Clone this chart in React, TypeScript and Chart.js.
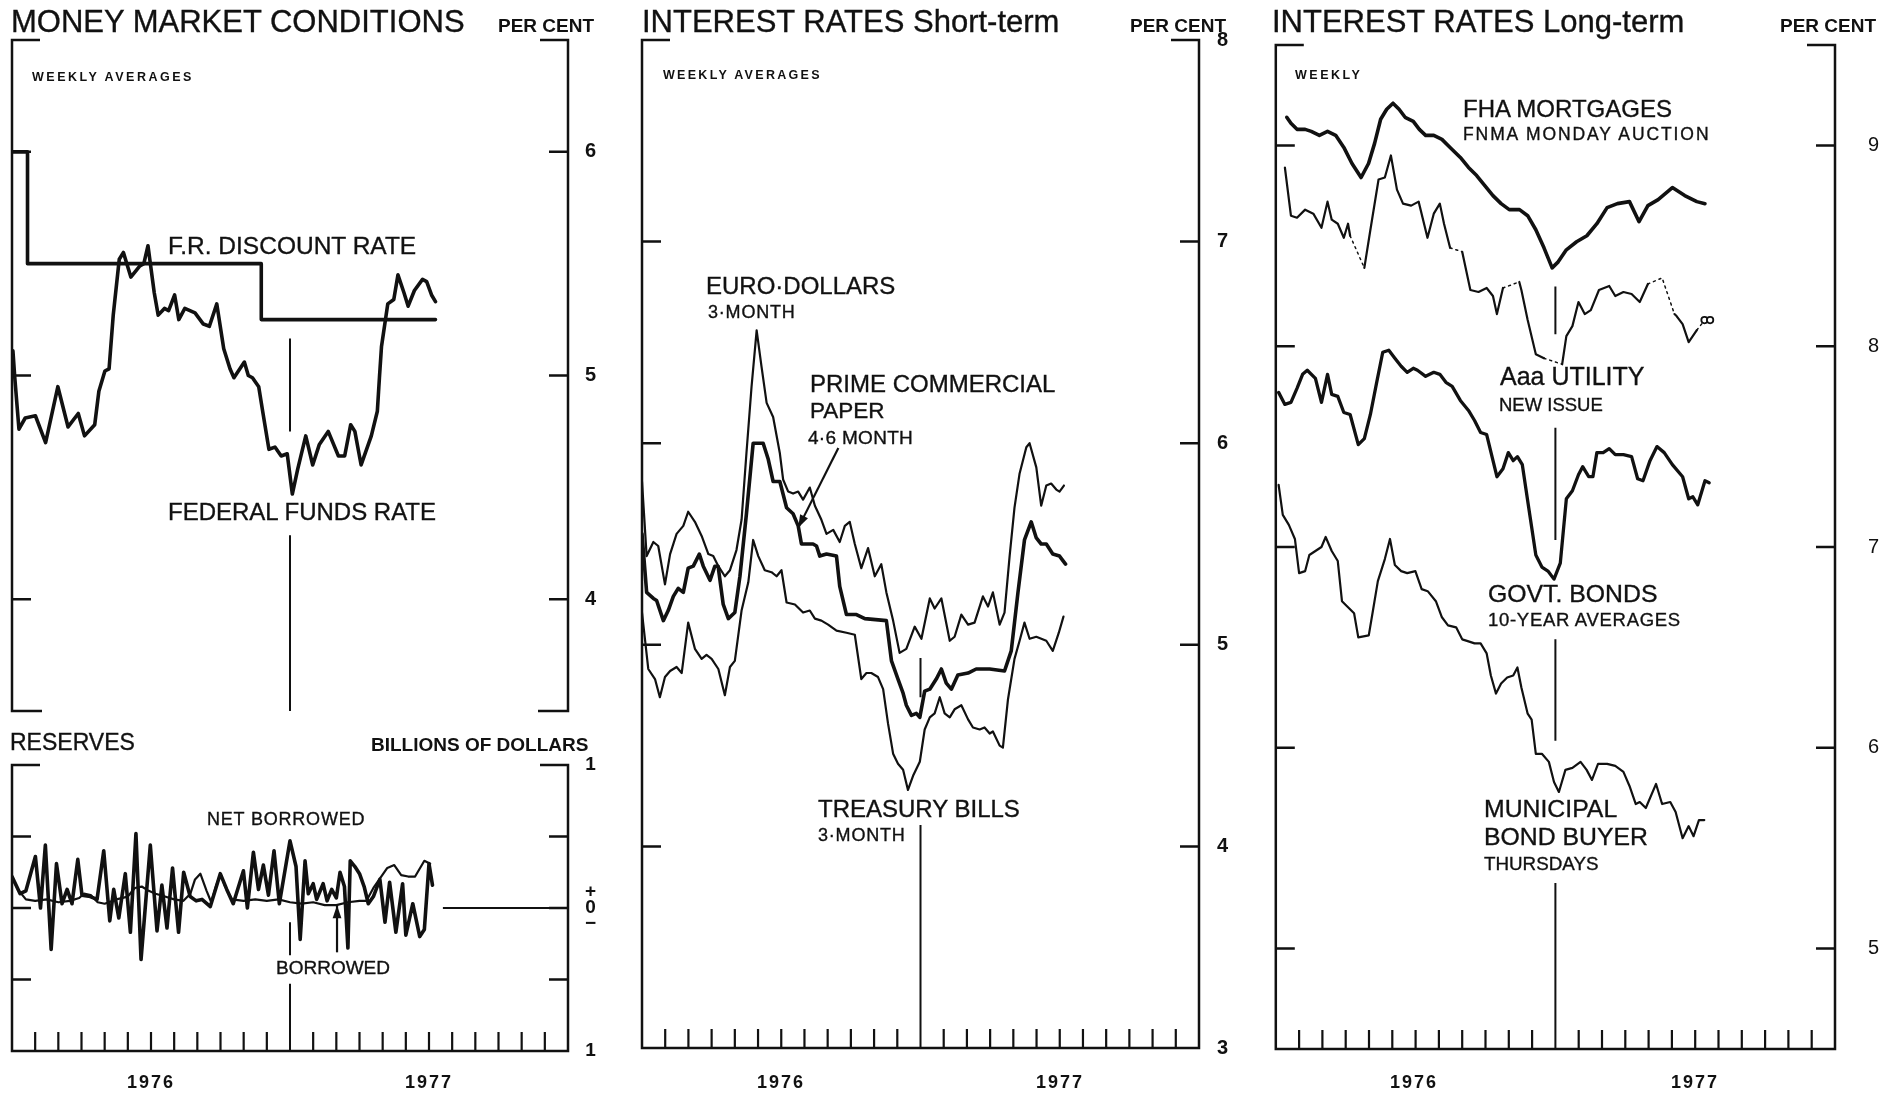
import React, { useEffect, useRef } from 'react';
import { Chart, registerables } from 'chart.js';

Chart.register(...registerables);

const INK = '#111';
const FONT = '"Liberation Sans", Arial, Helvetica, sans-serif';

// ---------- x axis: months since Jan 1976 (0..24) ----------
const MONTH_TICKS = [1, 2, 3, 4, 5, 6, 7, 8, 9, 10, 11, 13, 14, 15, 16, 17, 18, 19, 20, 21, 22, 23];
const YEAR_BREAK = 12;

// ---------- MONEY MARKET CONDITIONS (per cent) ----------
const ffMonths = [0.04, 0.12, 0.30, 0.57, 1.01, 1.45, 1.98, 2.42, 2.86, 3.13, 3.57, 3.75, 4.01, 4.19, 4.37, 4.63, 4.81, 5.13, 5.52, 5.69, 5.87, 6.14, 6.31, 6.58, 6.76, 7.02, 7.20, 7.46, 7.90, 8.26, 8.52, 8.84, 9.14, 9.41, 9.58, 10.03, 10.20, 10.38, 10.65, 10.82, 11.09, 11.35, 11.62, 11.88, 12.10, 12.33, 12.68, 12.98, 13.26, 13.65, 14.09, 14.36, 14.62, 14.80, 15.07, 15.51, 15.77, 15.86, 15.95, 16.22, 16.48, 16.66, 16.92, 17.10, 17.37, 17.72, 17.90, 18.11, 18.28];
const ffValues = [5.11, 4.99, 4.76, 4.81, 4.82, 4.70, 4.95, 4.77, 4.83, 4.73, 4.78, 4.93, 5.02, 5.03, 5.27, 5.52, 5.55, 5.44, 5.49, 5.50, 5.58, 5.37, 5.27, 5.30, 5.29, 5.36, 5.25, 5.30, 5.28, 5.23, 5.22, 5.32, 5.12, 5.03, 4.99, 5.06, 5.00, 4.99, 4.95, 4.84, 4.67, 4.68, 4.64, 4.65, 4.47, 4.58, 4.73, 4.60, 4.69, 4.75, 4.64, 4.64, 4.78, 4.75, 4.60, 4.73, 4.84, 4.99, 5.13, 5.32, 5.34, 5.45, 5.37, 5.31, 5.38, 5.43, 5.42, 5.36, 5.33];
const discountMonths = [0, 0.67, 10.76, 18.28];
const discountValues = [6.0, 5.5, 5.25, 5.25];
const mmTickValues = [4, 5, 6];
const mmTickLabels = ['4', '5', '6'];

// ---------- RESERVES (billions of dollars) ----------
const nbMonths = [0.00, 0.35, 0.60, 1.01, 1.23, 1.44, 1.69, 1.92, 2.16, 2.38, 2.59, 2.84, 3.02, 3.38, 3.67, 3.96, 4.22, 4.39, 4.61, 4.89, 5.11, 5.35, 5.57, 5.97, 6.26, 6.47, 6.69, 6.93, 7.19, 7.41, 7.69, 7.95, 8.20, 8.56, 8.99, 9.27, 9.55, 9.99, 10.16, 10.42, 10.64, 10.85, 11.07, 11.31, 11.54, 12.00, 12.26, 12.44, 12.65, 12.79, 13.00, 13.15, 13.43, 13.60, 13.80, 14.00, 14.16, 14.35, 14.50, 14.60, 14.80, 15.00, 15.20, 15.38, 15.60, 15.88, 16.10, 16.30, 16.57, 16.86, 17.00, 17.30, 17.60, 17.80, 18.00, 18.15];
const nbValues = [0.22, 0.10, 0.12, 0.36, 0.00, 0.44, -0.29, 0.31, 0.03, 0.13, 0.03, 0.34, 0.09, 0.08, 0.06, 0.40, -0.09, 0.13, -0.07, 0.24, -0.17, 0.52, -0.36, 0.44, -0.16, 0.16, -0.14, 0.28, -0.17, 0.25, 0.08, 0.05, 0.06, 0.01, 0.24, 0.13, 0.03, 0.26, 0.00, 0.39, 0.13, 0.30, 0.09, 0.40, 0.03, 0.47, 0.29, -0.22, 0.33, 0.10, 0.17, 0.06, 0.17, 0.05, 0.13, 0.07, 0.25, 0.15, -0.28, 0.33, 0.29, 0.24, 0.15, 0.03, 0.08, 0.20, -0.10, 0.18, -0.17, 0.17, -0.19, 0.03, -0.20, -0.15, 0.31, 0.16];
const borMonths = [0.00, 0.30, 0.60, 1.00, 1.50, 2.00, 2.50, 2.90, 3.10, 3.40, 3.70, 4.00, 4.50, 5.00, 5.30, 5.60, 5.90, 6.20, 6.60, 7.00, 7.40, 7.70, 7.90, 8.13, 8.40, 8.60, 8.80, 9.00, 9.20, 9.50, 10.00, 10.50, 11.00, 11.50, 12.00, 12.50, 13.00, 13.50, 14.00, 14.50, 15.00, 15.30, 15.60, 15.90, 16.20, 16.50, 16.80, 17.10, 17.40, 17.80, 18.05];
const borValues = [0.21, 0.12, 0.06, 0.05, 0.06, 0.04, 0.05, 0.07, 0.10, 0.09, 0.04, 0.03, 0.06, 0.08, 0.14, 0.15, 0.12, 0.10, 0.08, 0.06, 0.05, 0.10, 0.20, 0.24, 0.12, 0.04, 0.15, 0.24, 0.15, 0.06, 0.05, 0.06, 0.05, 0.06, 0.04, 0.03, 0.04, 0.02, 0.02, 0.04, 0.05, 0.05, 0.14, 0.21, 0.28, 0.30, 0.23, 0.22, 0.22, 0.33, 0.31];
const resTickValues = [1, 0, -1];
const resTickLabels: (string | string[])[] = ['1', ['+', '0', '\u2212'], '1'];

// ---------- INTEREST RATES Short-term (per cent) ----------
const euroMonths = [0, 0.20, 0.49, 0.70, 0.99, 1.21, 1.49, 1.78, 1.99, 2.28, 2.57, 2.86, 3.07, 3.29, 3.57, 3.79, 4.07, 4.29, 4.50, 4.72, 4.94, 5.15, 5.37, 5.65, 5.94, 6.08, 6.30, 6.51, 6.73, 6.94, 7.23, 7.45, 7.73, 7.95, 8.24, 8.52, 8.74, 8.95, 9.17, 9.45, 9.74, 10.03, 10.31, 10.53, 10.82, 11.10, 11.39, 11.75, 12.04, 12.40, 12.61, 12.90, 13.26, 13.47, 13.76, 14.05, 14.33, 14.69, 14.91, 15.12, 15.41, 15.62, 15.84, 16.05, 16.27, 16.56, 16.70, 16.99, 17.20, 17.42, 17.63, 17.85, 17.99, 18.18];
const euroValues = [5.81, 5.44, 5.51, 5.49, 5.30, 5.45, 5.55, 5.59, 5.66, 5.61, 5.54, 5.45, 5.44, 5.39, 5.34, 5.37, 5.47, 5.62, 5.95, 6.28, 6.56, 6.38, 6.20, 6.13, 5.95, 5.82, 5.76, 5.75, 5.76, 5.72, 5.78, 5.69, 5.62, 5.55, 5.57, 5.51, 5.59, 5.61, 5.50, 5.38, 5.48, 5.34, 5.40, 5.26, 5.12, 4.96, 4.98, 5.09, 5.03, 5.23, 5.18, 5.23, 5.02, 5.04, 5.15, 5.10, 5.11, 5.24, 5.19, 5.26, 5.10, 5.16, 5.44, 5.68, 5.85, 5.98, 6.00, 5.88, 5.69, 5.79, 5.80, 5.77, 5.76, 5.79];
const cpMonths = [0, 0.20, 0.49, 0.63, 0.92, 1.13, 1.35, 1.56, 1.78, 1.99, 2.21, 2.47, 2.64, 2.93, 3.14, 3.28, 3.50, 3.72, 4.00, 4.22, 4.50, 4.79, 5.22, 5.44, 5.65, 5.94, 6.23, 6.51, 6.73, 6.87, 7.37, 7.52, 7.66, 7.95, 8.38, 8.52, 8.81, 9.24, 9.60, 10.53, 10.75, 11.03, 11.25, 11.39, 11.61, 11.82, 11.97, 12.18, 12.40, 12.68, 12.90, 13.11, 13.33, 13.61, 14.05, 14.40, 14.98, 15.62, 15.91, 16.20, 16.48, 16.77, 16.99, 17.20, 17.42, 17.70, 17.99, 18.25];
const cpValues = [5.55, 5.26, 5.23, 5.22, 5.12, 5.17, 5.24, 5.28, 5.26, 5.38, 5.39, 5.45, 5.39, 5.32, 5.39, 5.39, 5.20, 5.13, 5.16, 5.34, 5.65, 6.00, 6.00, 5.92, 5.81, 5.81, 5.68, 5.65, 5.59, 5.50, 5.50, 5.49, 5.44, 5.45, 5.44, 5.29, 5.15, 5.15, 5.13, 5.12, 4.92, 4.83, 4.76, 4.70, 4.65, 4.66, 4.64, 4.77, 4.78, 4.83, 4.88, 4.81, 4.78, 4.85, 4.86, 4.88, 4.88, 4.87, 4.97, 5.26, 5.52, 5.61, 5.53, 5.50, 5.50, 5.45, 5.44, 5.40];
const tbMonths = [0, 0.27, 0.56, 0.77, 0.99, 1.21, 1.49, 1.71, 1.99, 2.28, 2.57, 2.78, 3.00, 3.29, 3.57, 3.79, 4.00, 4.29, 4.58, 4.79, 5.01, 5.29, 5.58, 5.80, 6.01, 6.23, 6.59, 6.94, 7.23, 7.45, 7.73, 8.02, 8.38, 8.81, 9.17, 9.45, 9.67, 9.88, 10.17, 10.39, 10.60, 10.82, 11.03, 11.25, 11.46, 11.68, 11.97, 12.18, 12.40, 12.61, 12.83, 13.04, 13.26, 13.47, 13.76, 14.05, 14.26, 14.55, 14.76, 14.98, 15.12, 15.41, 15.55, 15.77, 16.05, 16.27, 16.48, 16.70, 16.99, 17.42, 17.70, 17.96, 18.16];
const tbValues = [5.16, 4.88, 4.83, 4.74, 4.84, 4.87, 4.89, 4.86, 5.11, 4.98, 4.93, 4.95, 4.93, 4.88, 4.75, 4.89, 4.92, 5.17, 5.31, 5.52, 5.44, 5.37, 5.36, 5.34, 5.37, 5.21, 5.20, 5.16, 5.17, 5.13, 5.12, 5.10, 5.07, 5.06, 5.05, 4.83, 4.86, 4.86, 4.84, 4.78, 4.61, 4.46, 4.41, 4.38, 4.28, 4.35, 4.42, 4.58, 4.64, 4.66, 4.74, 4.66, 4.64, 4.68, 4.70, 4.63, 4.59, 4.58, 4.59, 4.56, 4.57, 4.50, 4.49, 4.73, 4.93, 5.02, 5.11, 5.03, 5.04, 5.02, 4.97, 5.06, 5.14];
const stTickValues = [3, 4, 5, 6, 7, 8];
const stTickLabels = ['3', '4', '5', '6', '7', '8'];

// ---------- INTEREST RATES Long-term (per cent) ----------
const fhaMonths = [0.47, 0.65, 0.91, 1.26, 1.52, 1.87, 2.22, 2.57, 2.92, 3.27, 3.66, 3.98, 4.24, 4.50, 4.76, 5.03, 5.29, 5.55, 5.90, 6.16, 6.43, 6.78, 7.13, 7.48, 7.92, 8.27, 8.62, 8.97, 9.32, 9.67, 10.02, 10.46, 10.81, 11.16, 11.51, 11.86, 12.12, 12.47, 12.91, 13.35, 13.78, 14.22, 14.66, 15.18, 15.59, 15.97, 16.41, 17.02, 17.55, 18.07, 18.42];
const fhaValues = [9.14, 9.11, 9.08, 9.08, 9.07, 9.05, 9.07, 9.05, 8.99, 8.91, 8.84, 8.91, 9.01, 9.13, 9.18, 9.21, 9.18, 9.14, 9.12, 9.08, 9.05, 9.05, 9.03, 8.99, 8.94, 8.89, 8.85, 8.80, 8.75, 8.71, 8.68, 8.68, 8.65, 8.58, 8.49, 8.39, 8.42, 8.48, 8.52, 8.55, 8.61, 8.69, 8.71, 8.72, 8.62, 8.70, 8.73, 8.79, 8.75, 8.72, 8.71];
const aaaMonths = [0.39, 0.65, 0.91, 1.26, 1.61, 1.96, 2.22, 2.40, 2.66, 2.92, 3.10, 3.19, 3.80, 4.06, 4.41, 4.68, 4.94, 5.20, 5.46, 5.81, 6.13, 6.51, 6.78, 7.04, 7.22, 7.48, 8.00, 8.35, 8.70, 9.05, 9.32, 9.49, 9.75, 10.45, 10.54, 10.81, 11.16, 11.51, 12.29, 12.47, 12.73, 12.99, 13.26, 13.52, 13.87, 14.31, 14.57, 14.92, 15.27, 15.62, 15.97, 16.58, 17.11, 17.20, 17.46, 17.72, 18.07, 18.34];
const aaaValues = [8.89, 8.65, 8.64, 8.68, 8.66, 8.59, 8.72, 8.63, 8.61, 8.54, 8.61, 8.55, 8.39, 8.58, 8.83, 8.84, 8.95, 8.78, 8.71, 8.70, 8.72, 8.54, 8.66, 8.71, 8.61, 8.49, 8.47, 8.28, 8.27, 8.29, 8.25, 8.16, 8.29, 8.32, 8.28, 8.13, 7.96, 7.94, 7.91, 8.05, 8.10, 8.22, 8.16, 8.18, 8.28, 8.30, 8.25, 8.27, 8.26, 8.22, 8.31, 8.34, 8.16, 8.15, 8.11, 8.02, 8.08, 8.12];
const aaaGapSegments = [11, 25, 32, 37, 50, 51, 56]; // segments with no offerings (dotted)
const aaaMarkMonths = [18.40, 18.64];
const aaaMarkValues = [8.13, 8.13];
const govMonths = [0.12, 0.39, 0.65, 0.91, 1.15, 1.35, 1.70, 1.96, 2.22, 2.40, 2.66, 2.92, 3.19, 3.54, 3.80, 4.06, 4.33, 4.59, 4.85, 5.11, 5.38, 5.64, 5.90, 6.08, 6.43, 6.78, 7.04, 7.30, 7.57, 7.92, 8.27, 8.53, 8.79, 9.05, 9.28, 9.49, 9.75, 9.98, 10.19, 10.37, 10.58, 10.81, 10.98, 11.16, 11.42, 11.68, 11.94, 12.21, 12.47, 12.73, 12.99, 13.17, 13.43, 13.61, 13.78, 14.05, 14.31, 14.57, 14.92, 15.27, 15.53, 15.76, 16.06, 16.36, 16.67, 17.02, 17.46, 17.72, 17.90, 18.11, 18.42, 18.60];
const govValues = [7.77, 7.71, 7.72, 7.79, 7.86, 7.88, 7.84, 7.72, 7.86, 7.76, 7.75, 7.67, 7.66, 7.51, 7.54, 7.66, 7.82, 7.97, 7.98, 7.94, 7.90, 7.87, 7.89, 7.88, 7.85, 7.87, 7.86, 7.82, 7.80, 7.73, 7.68, 7.63, 7.57, 7.56, 7.45, 7.35, 7.39, 7.47, 7.43, 7.45, 7.41, 7.23, 7.10, 6.96, 6.90, 6.88, 6.84, 6.92, 7.24, 7.28, 7.36, 7.40, 7.35, 7.35, 7.47, 7.47, 7.49, 7.46, 7.46, 7.45, 7.34, 7.33, 7.43, 7.50, 7.47, 7.41, 7.35, 7.24, 7.25, 7.21, 7.33, 7.32];
const muniMonths = [0.12, 0.30, 0.56, 0.82, 1.00, 1.26, 1.44, 1.70, 1.96, 2.14, 2.40, 2.66, 2.84, 3.10, 3.36, 3.54, 3.99, 4.15, 4.38, 4.68, 4.90, 5.11, 5.38, 5.64, 5.99, 6.26, 6.52, 6.87, 7.13, 7.39, 7.74, 8.00, 8.27, 8.53, 8.79, 9.05, 9.23, 9.45, 9.67, 9.93, 10.19, 10.37, 10.54, 10.81, 10.98, 11.16, 11.42, 11.72, 11.94, 12.15, 12.43, 12.73, 13.08, 13.34, 13.57, 13.83, 14.22, 14.57, 14.92, 15.18, 15.45, 15.62, 15.88, 16.32, 16.58, 16.93, 17.16, 17.46, 17.72, 17.93, 18.16, 18.39];
const muniValues = [7.31, 7.16, 7.11, 7.04, 6.87, 6.88, 6.96, 6.98, 7.00, 7.05, 6.98, 6.93, 6.73, 6.70, 6.67, 6.55, 6.56, 6.67, 6.83, 6.94, 7.04, 6.91, 6.88, 6.87, 6.88, 6.79, 6.78, 6.73, 6.65, 6.61, 6.60, 6.54, 6.53, 6.52, 6.52, 6.47, 6.36, 6.27, 6.32, 6.35, 6.36, 6.40, 6.30, 6.17, 6.14, 5.97, 5.97, 5.93, 5.83, 5.78, 5.89, 5.90, 5.93, 5.89, 5.84, 5.92, 5.92, 5.91, 5.88, 5.81, 5.72, 5.73, 5.70, 5.82, 5.72, 5.73, 5.68, 5.55, 5.61, 5.56, 5.64, 5.64];
const ltTickValues = [5, 6, 7, 8, 9];
const ltTickLabels = ['5', '6', '7', '8', '9'];

// ---------- helpers ----------
const pts = (xs: number[], ys: number[]) => xs.map((x, i) => ({ x, y: ys[i] }));

const THICK = 3.6;
const THIN = 2.2;

interface Arrow { x1: number; y1: number; x2: number; y2: number }
interface Decor {
  yTicks: number[];
  bottomAxis: boolean;
  dividers: [number, number][];
  zeroFrom?: number;
  arrows?: Arrow[];
}

function decorPlugin(d: Decor) {
  return {
    id: 'decor',
    afterDatasetsDraw(chart: any) {
      const { ctx, chartArea: a } = chart;
      const xs = chart.scales.x;
      const ys = chart.scales.y;
      const L = a.left, R = a.right, T = a.top, B = a.bottom;
      ctx.save();
      ctx.strokeStyle = INK;
      ctx.fillStyle = INK;
      ctx.lineCap = 'butt';
      ctx.lineWidth = 2.5;
      ctx.beginPath();
      ctx.moveTo(L, T - 1.2); ctx.lineTo(L, B + 1.2);
      ctx.moveTo(R, T - 1.2); ctx.lineTo(R, B + 1.2);
      ctx.moveTo(L, T); ctx.lineTo(L + 28, T);
      ctx.moveTo(R, T); ctx.lineTo(R - 28, T);
      if (d.bottomAxis) {
        ctx.moveTo(L, B); ctx.lineTo(R, B);
      } else {
        ctx.moveTo(L, B); ctx.lineTo(L + 30, B);
        ctx.moveTo(R, B); ctx.lineTo(R - 30, B);
      }
      for (const v of d.yTicks) {
        const py = ys.getPixelForValue(v);
        ctx.moveTo(L, py); ctx.lineTo(L + 19, py);
        ctx.moveTo(R, py); ctx.lineTo(R - 19, py);
      }
      ctx.stroke();
      if (d.bottomAxis) {
        ctx.lineWidth = 2.2;
        ctx.beginPath();
        for (const m of MONTH_TICKS) {
          const px = xs.getPixelForValue(m);
          ctx.moveTo(px, B); ctx.lineTo(px, B - 19);
        }
        ctx.stroke();
      }
      ctx.lineWidth = 2;
      ctx.beginPath();
      const dx = xs.getPixelForValue(YEAR_BREAK);
      for (const [v1, v2] of d.dividers) {
        ctx.moveTo(dx, ys.getPixelForValue(v1));
        ctx.lineTo(dx, ys.getPixelForValue(v2));
      }
      if (d.zeroFrom !== undefined) {
        const py = ys.getPixelForValue(0);
        ctx.moveTo(xs.getPixelForValue(d.zeroFrom), py);
        ctx.lineTo(R, py);
      }
      ctx.stroke();
      for (const ar of d.arrows ?? []) {
        const x1 = xs.getPixelForValue(ar.x1), y1 = ys.getPixelForValue(ar.y1);
        const x2 = xs.getPixelForValue(ar.x2), y2 = ys.getPixelForValue(ar.y2);
        ctx.lineWidth = 2.2;
        ctx.beginPath(); ctx.moveTo(x1, y1); ctx.lineTo(x2, y2); ctx.stroke();
        const ang = Math.atan2(y2 - y1, x2 - x1);
        const hl = 13, hw = 4.4;
        const c = Math.cos(ang), s = Math.sin(ang);
        ctx.beginPath();
        ctx.moveTo(x2, y2);
        ctx.lineTo(x2 - hl * c + hw * s, y2 - hl * s - hw * c);
        ctx.lineTo(x2 - hl * c - hw * s, y2 - hl * s + hw * c);
        ctx.closePath();
        ctx.fill();
      }
      ctx.restore();
    },
  };
}

interface PanelCfg {
  datasets: any[];
  yMin: number;
  yMax: number;
  tickValues: number[];
  tickLabels: (string | string[])[];
  tickFont: any;
  tickPadding: number;
  axisWidth: number;
  padding: { left: number; top: number; right: number; bottom: number };
  decor: Decor;
}

function makeChart(canvas: HTMLCanvasElement, c: PanelCfg) {
  return new Chart(canvas, {
    type: 'line',
    data: { datasets: c.datasets },
    options: {
      animation: false,
      responsive: false,
      maintainAspectRatio: false,
      layout: { padding: c.padding },
      plugins: { legend: { display: false }, tooltip: { enabled: false }, title: { display: false } },
      elements: {
        point: { radius: 0 },
        line: { tension: 0, borderJoinStyle: 'round', borderCapStyle: 'round' },
      },
      scales: {
        x: { type: 'linear', min: 0, max: 24, display: false },
        y: {
          type: 'linear',
          position: 'right',
          min: c.yMin,
          max: c.yMax,
          grid: { display: false, drawTicks: false },
          border: { display: false },
          afterBuildTicks: (s: any) => { s.ticks = c.tickValues.map((v) => ({ value: v })); },
          afterFit: (s: any) => { s.width = c.axisWidth; },
          ticks: {
            color: INK,
            font: c.tickFont,
            padding: c.tickPadding,
            crossAlign: 'center',
            autoSkip: false,
            callback: (_v: any, i: number) => c.tickLabels[i],
          },
        },
      },
    } as any,
    plugins: [decorPlugin(c.decor)],
  });
}

const line = (data: any[], width: number, extra: any = {}) => ({
  data,
  borderColor: INK,
  backgroundColor: INK,
  borderWidth: width,
  pointRadius: 0,
  fill: false,
  ...extra,
});

interface Lbl { t: string; x: number; y: number; s: number; w?: number; ls?: number; c?: boolean }
const LABELS: Lbl[] = [
  { t: 'MONEY MARKET CONDITIONS', x: 11, y: 10, s: 31 },
  { t: 'PER CENT', x: 498, y: 18, s: 19, w: 700 },
  { t: 'WEEKLY AVERAGES', x: 32, y: 73, s: 12.5, w: 700, ls: 2.5 },
  { t: 'F.R. DISCOUNT RATE', x: 168, y: 237, s: 24.5 },
  { t: 'FEDERAL FUNDS RATE', x: 168, y: 503, s: 24 },
  { t: 'RESERVES', x: 10, y: 734, s: 23 },
  { t: 'BILLIONS OF DOLLARS', x: 371, y: 737, s: 19, w: 700 },
  { t: 'NET BORROWED', x: 207, y: 812, s: 18, ls: 0.8 },
  { t: 'BORROWED', x: 276, y: 960, s: 19 },
  { t: '1976', x: 151, y: 1075, s: 18, w: 700, ls: 2, c: true },
  { t: '1977', x: 429, y: 1075, s: 18, w: 700, ls: 2, c: true },

  { t: 'INTEREST RATES Short-term', x: 642, y: 10, s: 31 },
  { t: 'PER CENT', x: 1130, y: 18, s: 19, w: 700 },
  { t: 'WEEKLY AVERAGES', x: 663, y: 71, s: 12.5, w: 700, ls: 2.3 },
  { t: 'EURO\u00B7DOLLARS', x: 706, y: 277, s: 24 },
  { t: '3\u00B7MONTH', x: 708, y: 305, s: 18, ls: 0.8 },
  { t: 'PRIME COMMERCIAL', x: 810, y: 375, s: 24 },
  { t: 'PAPER', x: 810, y: 403, s: 22.5 },
  { t: '4\u00B76 MONTH', x: 808, y: 430, s: 19, ls: 0.3 },
  { t: 'TREASURY BILLS', x: 818, y: 800, s: 24 },
  { t: '3\u00B7MONTH', x: 818, y: 828, s: 18, ls: 0.8 },
  { t: '1976', x: 781, y: 1075, s: 18, w: 700, ls: 2, c: true },
  { t: '1977', x: 1060, y: 1075, s: 18, w: 700, ls: 2, c: true },

  { t: 'INTEREST RATES Long-term', x: 1272, y: 10, s: 31 },
  { t: 'PER CENT', x: 1780, y: 18, s: 19, w: 700 },
  { t: 'WEEKLY', x: 1295, y: 71, s: 12.5, w: 700, ls: 2.5 },
  { t: 'FHA MORTGAGES', x: 1463, y: 100, s: 24 },
  { t: 'FNMA MONDAY AUCTION', x: 1463, y: 128, s: 17.5, ls: 1.9 },
  { t: 'Aaa UTILITY', x: 1500, y: 367, s: 25 },
  { t: 'NEW ISSUE', x: 1499, y: 398, s: 18.5 },
  { t: 'GOVT. BONDS', x: 1488, y: 585, s: 24.8 },
  { t: '10-YEAR AVERAGES', x: 1488, y: 613, s: 18.5, ls: 0.7 },
  { t: 'MUNICIPAL', x: 1484, y: 800, s: 24.8 },
  { t: 'BOND BUYER', x: 1484, y: 828, s: 24.8 },
  { t: 'THURSDAYS', x: 1484, y: 857, s: 18.8 },
  { t: '1976', x: 1414, y: 1075, s: 18, w: 700, ls: 2, c: true },
  { t: '1977', x: 1695, y: 1075, s: 18, w: 700, ls: 2, c: true },
];

const CANVASES = [
  { key: 'mm', left: 0, top: 0, width: 630, height: 740 },
  { key: 'res', left: 0, top: 740, width: 630, height: 354 },
  { key: 'st', left: 630, top: 0, width: 640, height: 1094 },
  { key: 'lt', left: 1270, top: 0, width: 634, height: 1094 },
];

export default function App() {
  const refs = useRef<(HTMLCanvasElement | null)[]>([]);

  useEffect(() => {
    const boldTick = { family: FONT, size: 20, weight: 'bold' };
    const cfgs: PanelCfg[] = [
      {
        datasets: [
          line(pts(discountMonths, discountValues), THICK, { stepped: 'before' }),
          line(pts(ffMonths, ffValues), THICK),
        ],
        yMin: 3.5, yMax: 6.5,
        tickValues: mmTickValues, tickLabels: mmTickLabels,
        tickFont: boldTick, tickPadding: 17, axisWidth: 62,
        padding: { left: 12, top: 40, right: 0, bottom: 28 },
        decor: { yTicks: [4, 5, 6], bottomAxis: false, dividers: [[5.165, 4.75], [4.286, 3.5]] },
      },
      {
        datasets: [
          line(pts(borMonths, borValues), THIN),
          line(pts(nbMonths, nbValues), THICK),
        ],
        yMin: -1, yMax: 1,
        tickValues: resTickValues, tickLabels: resTickLabels,
        tickFont: { family: FONT, size: 19, weight: 'bold', lineHeight: '16px' }, tickPadding: 17, axisWidth: 62,
        padding: { left: 12, top: 20, right: 0, bottom: 43 },
        decor: {
          yTicks: [0.5, 0, -0.5], bottomAxis: true,
          dividers: [[-0.1, -0.33], [-0.53, -1]], zeroFrom: 18.6,
          arrows: [{ x1: 14.03, y1: -0.31, x2: 14.03, y2: 0.02 }],
        },
      },
      {
        datasets: [
          line(pts(euroMonths, euroValues), THIN),
          line(pts(tbMonths, tbValues), THIN),
          line(pts(cpMonths, cpValues), THICK),
        ],
        yMin: 3, yMax: 8,
        tickValues: stTickValues, tickLabels: stTickLabels,
        tickFont: boldTick, tickPadding: 18, axisWidth: 71,
        padding: { left: 12, top: 40, right: 0, bottom: 46 },
        decor: {
          yTicks: [4, 5, 6, 7], bottomAxis: true, dividers: [[4.935, 4.74], [4.106, 3]],
          arrows: [{ x1: 8.46, y1: 5.976, x2: 6.73, y2: 5.58 }],
        },
      },
      {
        datasets: [
          line(pts(fhaMonths, fhaValues), THICK),
          line(pts(aaaMonths, aaaValues), THIN, {
            segment: {
              borderDash: (ctx: any) => (aaaGapSegments.includes(ctx.p0DataIndex) ? [2, 4] : undefined),
              borderWidth: (ctx: any) => (aaaGapSegments.includes(ctx.p0DataIndex) ? 1.5 : undefined),
            },
          }),
          line(pts(govMonths, govValues), 3.3),
          line(pts(muniMonths, muniValues), THIN),
          {
            data: pts(aaaMarkMonths, aaaMarkValues),
            showLine: false,
            pointRadius: 3.2,
            pointBorderWidth: 1.8,
            pointBorderColor: INK,
            pointBackgroundColor: '#fff',
            borderColor: INK,
          },
        ],
        yMin: 4.5, yMax: 9.5,
        tickValues: ltTickValues, tickLabels: ltTickLabels,
        tickFont: { family: FONT, size: 20, weight: 'normal' }, tickPadding: 33, axisWidth: 69,
        padding: { left: 4, top: 41, right: 0, bottom: 45 },
        decor: {
          yTicks: [5, 6, 7, 8, 9], bottomAxis: true,
          dividers: [[8.297, 8.06], [7.594, 7.035], [6.54, 6.035], [5.327, 4.5]],
        },
      },
    ];
    const charts = cfgs.map((c, i) => makeChart(refs.current[i] as HTMLCanvasElement, c));
    return () => charts.forEach((ch) => ch.destroy());
  }, []);

  return (
    <div
      style={{
        position: 'absolute', left: 0, top: 0, width: 1904, height: 1094,
        background: '#fff', overflow: 'hidden', fontFamily: FONT, color: INK,
      }}
    >
      {CANVASES.map((c, i) => (
        <canvas
          key={c.key}
          ref={(el) => { refs.current[i] = el; }}
          width={c.width}
          height={c.height}
          style={{ position: 'absolute', left: c.left, top: c.top }}
        />
      ))}
      {LABELS.map((l, i) => (
        <div
          key={i}
          style={{
            position: 'absolute',
            left: l.c ? l.x - 100 : l.x,
            width: l.c ? 200 : undefined,
            textAlign: l.c ? 'center' : 'left',
            top: l.y - 0.13 * l.s,
            fontSize: l.s,
            fontWeight: l.w ?? 400,
            letterSpacing: l.ls ?? 0,
            lineHeight: 1,
            whiteSpace: 'nowrap',
            fontFamily: FONT,
            color: INK,
            WebkitTextStroke: l.w ? undefined : '0.35px #111',
          }}
        >
          {l.t}
        </div>
      ))}
    </div>
  );
}
